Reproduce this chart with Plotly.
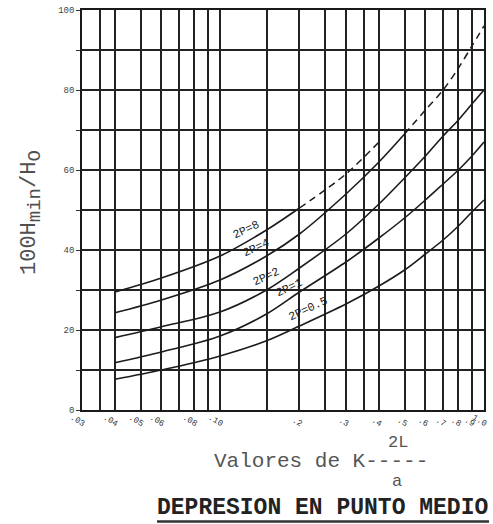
import math
import plotly.graph_objects as go

# K = 2L/a sample positions along the curves
k_values = [0.04, 0.06, 0.1, 0.15, 0.2, 0.3, 0.4, 0.5, 0.6, 0.7, 0.8, 0.9, 1.0]

# 100 Hmin / Ho for each pipeline constant 2P
h_8 = [29.5, 33.0, 38.5, 45.0, 50.5, 59.0, 67.0]
h_4 = [24.3, 27.5, 32.5, 38.5, 44.0, 54.0, 62.0, 69.0, 75.0, 80.0, 85.5, 91.0, 96.0]
h_2 = [18.1, 20.8, 24.5, 30.0, 35.5, 44.0, 51.5, 58.0, 63.5, 68.5, 72.5, 76.5, 80.0]
h_1 = [11.8, 14.5, 18.5, 24.0, 29.5, 37.0, 43.0, 48.0, 52.5, 56.5, 60.0, 63.5, 67.0]
h_05 = [7.7, 10.0, 13.5, 17.3, 21.0, 26.5, 31.0, 35.0, 39.0, 42.5, 46.0, 49.5, 52.5]

curve_names = ["2P=8", "2P=4", "2P=2", "2P=1", "2P=0.5"]
curve_values = [h_8, h_4, h_2, h_1, h_05]
# index from which each curve is drawn dashed (None = solid throughout)
dash_start = [4, 7, None, None, None]

# grid / tick labels of the log K axis
x_grid = [0.03, 0.035, 0.04, 0.05, 0.06, 0.07, 0.08, 0.09, 0.1, 0.15, 0.2, 0.25,
          0.3, 0.35, 0.4, 0.5, 0.6, 0.7, 0.8, 0.9, 1.0]
x_text = [".03", "", ".04", ".05", ".06", "", ".08", "", ".10", "", ".2", "",
          ".3", "", ".4", ".5", ".6", ".7", ".8", ".9", "1.0"]
y_grid = [0, 10, 20, 30, 40, 50, 60, 70, 80, 90, 100]
y_text = ["0", "", "20", "", "40", "", "60", "", "80", "", "100"]

MONO = "Liberation Mono, DejaVu Sans Mono, monospace"
INK = "#1c1c1c"

fig = go.Figure()

for name, vals, ds in zip(curve_names, curve_values, dash_start):
    xs = k_values[:len(vals)]
    if ds is None:
        solid_x, solid_y, dash_x, dash_y = xs, vals, [], []
    else:
        solid_x, solid_y = xs[:ds + 1], vals[:ds + 1]
        dash_x, dash_y = xs[ds:], vals[ds:]
    fig.add_trace(go.Scatter(
        x=solid_x, y=solid_y, mode="lines", name=name, showlegend=False,
        line=dict(color=INK, width=1.6, shape="spline", smoothing=0.9)))
    if dash_x:
        fig.add_trace(go.Scatter(
            x=dash_x, y=dash_y, mode="lines", name=name, showlegend=False,
            line=dict(color=INK, width=1.5, shape="spline", smoothing=0.9,
                      dash="7px,5px")))

# plot area in pixels: left 82, right 484, top 10, bottom 410
L, R, T, B = 82, 484, 10, 410


def px(xp):
    return (xp - L) / (R - L)


def py(yp):
    return (B - yp) / (B - T)


def note(x, y, text, size, color, angle=0, bold=False):
    return dict(
        x=px(x), y=py(y), xref="paper", yref="paper",
        xanchor="center", yanchor="middle",
        text=f"<b>{text}</b>" if bold else text, showarrow=False,
        textangle=angle, font=dict(family=MONO, size=size, color=color))


annotations = []

# curve labels
label_pos = [(246, 229), (256, 247), (266, 276), (289, 287), (308, 308)]
for name, (lx, ly) in zip(curve_names, label_pos):
    annotations.append(note(lx, ly, name, 11.5, INK, angle=-25))

# y-axis title
sub = "<sub><span style='font-size:19px'>{}</span></sub>"
annotations.append(note(31, 213, "100H" + sub.format("min") + "/H" + sub.format("O"),
                        22, "#505050", angle=-90))

# x-axis title with the fraction 2L / a
annotations.append(note(321, 461, "Valores de K-----", 21, "#555555"))
annotations.append(note(398, 442, "2L", 17, "#555555"))
annotations.append(note(397, 481, "a", 17, "#555555"))

# caption
annotations.append(note(322, 508, "DEPRESION EN PUNTO MEDIO", 23, "#222222",
                        bold=True))

shapes = [dict(
    type="line", xref="paper", yref="paper",
    x0=px(157), x1=px(489), y0=py(521.5), y1=py(521.5),
    line=dict(color="#333333", width=2.5))]

fig.update_layout(
    width=493, height=524, autosize=False,
    margin=dict(l=L, r=493 - R, t=T, b=524 - B),
    paper_bgcolor="white", plot_bgcolor="white",
    showlegend=False,
    annotations=annotations, shapes=shapes,
    xaxis=dict(
        type="log", range=[math.log10(0.03), math.log10(1.0)],
        tickmode="array", tickvals=x_grid, ticktext=x_text,
        ticklabelposition="outside left", ticklabelshift=4,
        ticklabelstandoff=5,
        ticklabeloverflow="allow", automargin=False,
        showgrid=True, gridcolor="#222222", gridwidth=1.5,
        showline=True, linecolor="#1a1a1a", linewidth=1.7, mirror=True,
        ticks="", zeroline=False,
        tickfont=dict(family=MONO, size=8.5, color="#333333")),
    yaxis=dict(
        range=[0, 100], tickmode="array", tickvals=y_grid, ticktext=y_text,
        automargin=False,
        showgrid=True, gridcolor="#222222", gridwidth=1.5,
        showline=True, linecolor="#1a1a1a", linewidth=1.7, mirror=True,
        ticks="outside", ticklen=4, tickcolor="#333333", zeroline=False,
        tickfont=dict(family=MONO, size=9, color="#444444")),
)

fig.write_html("out.html")
